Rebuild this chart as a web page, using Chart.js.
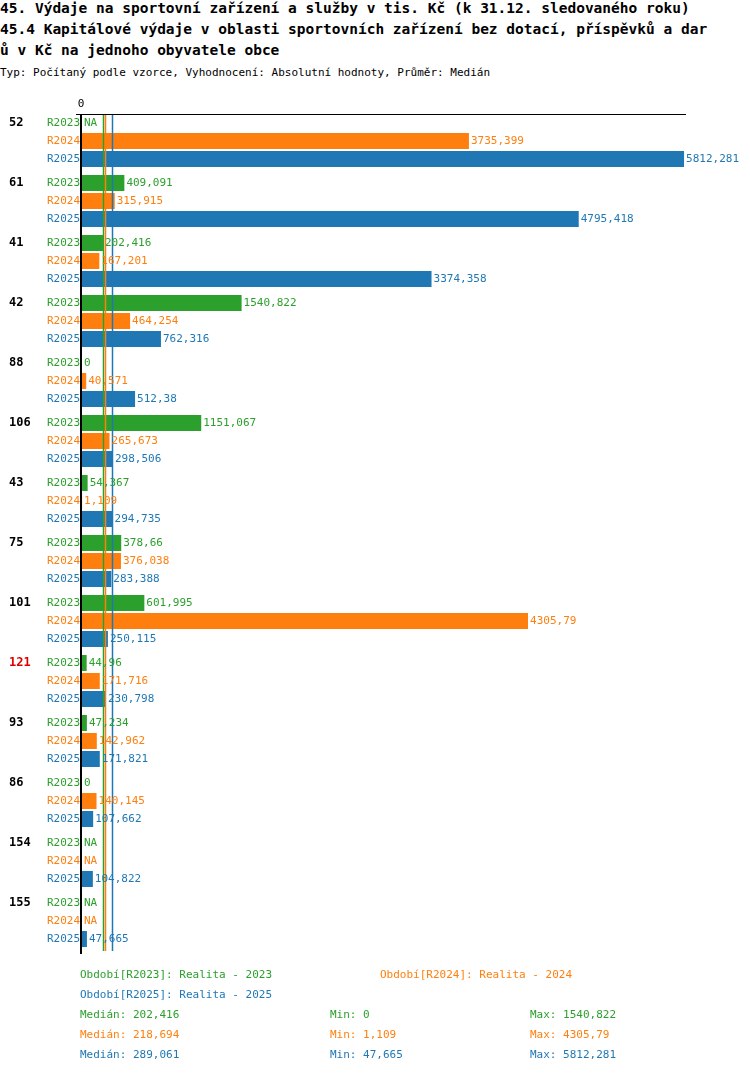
<!DOCTYPE html>
<html><head><meta charset="utf-8">
<script src="https://cdn.jsdelivr.net/npm/chart.js@4/dist/chart.umd.min.js"></script>
<style>
body{margin:0;background:#fff;font-family:"DejaVu Sans Mono",monospace;}
#wrap{position:relative;width:750px;height:1074px;}
.t{position:absolute;white-space:pre;color:#000;}
#c{position:absolute;left:0;top:0;}
</style></head><body>
<div id="wrap">
<div class="t" style="left:0;top:0;font-size:14.5px;font-weight:bold">45. Výdaje na sportovní zařízení a služby v tis. Kč (k 31.12. sledovaného roku)</div>
<div class="t" style="left:0;top:21px;font-size:14.5px;font-weight:bold">45.4 Kapitálové výdaje v oblasti sportovních zařízení bez dotací, příspěvků a dar</div>
<div class="t" style="left:0;top:42px;font-size:14.5px;font-weight:bold">ů v Kč na jednoho obyvatele obce</div>
<div class="t" style="left:0;top:66px;font-size:11px">Typ: Počítaný podle vzorce, Vyhodnocení: Absolutní hodnoty, Průměr: Medián</div>
<canvas id="c" width="750" height="1074"></canvas>
</div>
<script>
const groups = ['52','61','41','42','88','106','43','75','101','121','93','86','154','155'];
const periods = ['R2023','R2024','R2025'];
const colors = ['#2ca02c','#ff7f0e','#1f77b4'];
const r2023 = [null,409.091,202.416,1540.822,0,1151.067,54.367,378.66,601.995,44.96,47.234,0,null,null];
const r2024 = [3735.399,315.915,167.201,464.254,40.571,265.673,1.109,376.038,4305.79,171.716,142.962,140.145,null,null];
const r2025 = [5812.281,4795.418,3374.358,762.316,512.38,298.506,294.735,283.388,250.115,230.798,171.821,107.662,104.822,47.665];
const medians = [202.416,218.694,289.061];
const mins = [0,1.109,47.665];
const maxs = [1540.822,4305.79,5812.281];
const series = [r2023,r2024,r2025];
const fmt = v => String(v).replace('.', ',');
const F = '11px "DejaVu Sans Mono", monospace';

const overlay = {
  id:'overlay',
  afterDatasetsDraw(chart){
    const {ctx, chartArea:a, scales:{x,y}} = chart;
    ctx.save();
    // medians
    medians.forEach((m,i)=>{
      ctx.strokeStyle = colors[i]; ctx.lineWidth = 1.5;
      const px = Math.round(x.getPixelForValue(m))+0.5;
      ctx.beginPath(); ctx.moveTo(px,a.top+3); ctx.lineTo(px,a.bottom); ctx.stroke();
    });
    // axes
    ctx.strokeStyle='#000'; ctx.lineWidth=1;
    ctx.beginPath(); ctx.moveTo(76,114.5); ctx.lineTo(686,114.5); ctx.stroke();
    ctx.lineWidth=2;
    ctx.beginPath(); ctx.moveTo(81,114); ctx.lineTo(81,a.bottom+3); ctx.stroke();
    ctx.font=F; ctx.fillStyle='#000'; ctx.textAlign='center'; ctx.textBaseline='alphabetic';
    ctx.fillText('0',81,107);
    ctx.textBaseline='middle';
    series.forEach((s,di)=>{
      const meta = chart.getDatasetMeta(di);
      meta.data.forEach((bar,i)=>{
        const v = s[i];
        ctx.fillStyle = colors[di]; ctx.textAlign='left'; ctx.font=F;
        const cy = bar.y;
        ctx.fillText(periods[di], 47, cy);
        const ex = v === null ? 82 : x.getPixelForValue(v);
        ctx.fillText(v === null ? 'NA' : fmt(v), ex+2, cy);
        if(di===1){
          ctx.font='bold 12px "DejaVu Sans Mono", monospace';
          ctx.fillStyle = groups[i]==='121' ? '#e00000' : '#000';
          ctx.fillText(groups[i], 9, chart.getDatasetMeta(0).data[i].y);
        }
      });
    });
    // bottom legend
    ctx.font=F; ctx.textAlign='left';
    const txt=(t,px,py,c)=>{ctx.fillStyle=c;ctx.fillText(t,px,py);};
    txt('Období[R2023]: Realita - 2023',80,975,colors[0]);
    txt('Období[R2024]: Realita - 2024',380,975,colors[1]);
    txt('Období[R2025]: Realita - 2025',80,995,colors[2]);
    for(let i=0;i<3;i++){
      const py=1015+i*20;
      txt('Medián: '+fmt(medians[i]),80,py,colors[i]);
      txt('Min: '+fmt(mins[i]),330,py,colors[i]);
      txt('Max: '+fmt(maxs[i]),530,py,colors[i]);
    }
    ctx.restore();
  }
};

new Chart(document.getElementById('c'), {
  type:'bar',
  data:{
    labels: groups,
    datasets: series.map((s,i)=>({label:periods[i], data:s, backgroundColor:colors[i],
      categoryPercentage:0.9, barPercentage:16/18, borderWidth:0}))
  },
  options:{
    indexAxis:'y', responsive:false, animation:false,
    layout:{padding:{left:82,right:64,top:111,bottom:1074-951}},
    plugins:{legend:{display:false},tooltip:{enabled:false}},
    scales:{
      x:{display:false,min:0,max:5831},
      y:{display:false}
    }
  },
  plugins:[overlay]
});
</script>
</body></html>
